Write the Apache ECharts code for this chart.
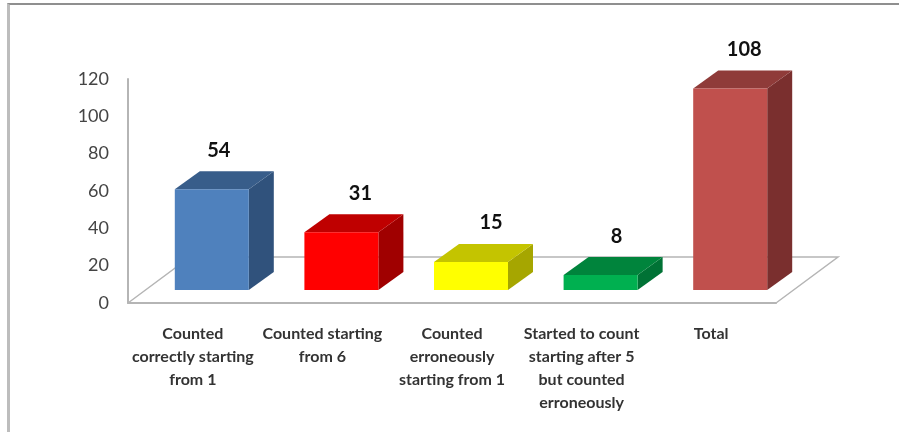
<!DOCTYPE html>
<html>
<head>
<meta charset="utf-8">
<title>Counting</title>
<script src="https://cdn.jsdelivr.net/npm/echarts@6/dist/echarts.min.js"></script>
<style>
    html, body { margin: 0; padding: 0; background: #fff; }
    #main { position: absolute; left: 0; top: 0; width: 899px; height: 432px; }
    .frame {
        position: absolute; left: 7px; top: 3px; right: 0; bottom: 0;
        border-top: 2px solid #8f8f8f;
        border-left: 3px solid #bdbdbd;
    }
</style>
</head>
<body>
<div class="frame"></div>
<div id="main"></div>
<script>
    const categories = [
        'Counted\ncorrectly starting\nfrom 1',
        'Counted starting\nfrom 6',
        'Counted\nerroneously\nstarting from 1',
        'Started to count\nstarting after 5\nbut counted\nerroneously',
        'Total'
    ];
    const values = [54, 31, 15, 8, 108];
    const frontColors = ['#4f81bd', '#ff0000', '#ffff00', '#00b050', '#c0504d'];
    const topColors = ['#385d8a', '#bf0000', '#c4c400', '#00843c', '#8f3b39'];
    const sideColors = ['#30527c', '#a00000', '#a6a600', '#007235', '#7a2f2e'];
    const labelNudge = [7, 19, 20, 16, 14];

    // fake 3d: floor depth and bar depth in px
    const floorDx = 62, floorDy = 46;
    const barDx = 25, barDy = 18;
    const barShift = 19, barLift = 13, barHalf = 37;
    const axisColor = '#b5b5b5';

    function renderFloor(params, api) {
        const g = params.coordSys;
        const bottom = g.y + g.height;
        return {
            type: 'polyline',
            silent: true,
            shape: {
                points: [
                    [g.x, bottom],
                    [g.x + floorDx, bottom - floorDy],
                    [g.x + g.width + floorDx, bottom - floorDy],
                    [g.x + g.width, bottom]
                ]
            },
            style: { fill: null, stroke: axisColor, lineWidth: 1.5 }
        };
    }

    function renderBar(params, api) {
        const i = params.dataIndex;
        const base = api.coord([api.value(0), 0]);
        const head = api.coord([api.value(0), api.value(1)]);
        const cx = base[0] + barShift;
        const l = cx - barHalf, r = cx + barHalf;
        const b = base[1] - barLift, t = head[1] - barLift;
        return {
            type: 'group',
            children: [
                {
                    type: 'polygon',
                    shape: { points: [[r, t], [r + barDx, t - barDy], [r + barDx, b - barDy], [r, b]] },
                    style: { fill: sideColors[i] }
                },
                {
                    type: 'polygon',
                    shape: { points: [[l, t], [l + barDx, t - barDy], [r + barDx, t - barDy], [r, t]] },
                    style: { fill: topColors[i] }
                },
                {
                    type: 'rect',
                    shape: { x: l, y: t, width: r - l, height: b - t },
                    style: { fill: frontColors[i] }
                },
                {
                    type: 'text',
                    x: cx + labelNudge[i],
                    y: t - 39,
                    style: {
                        text: String(api.value(1)),
                        fill: '#111',
                        font: 'bold 20px Lato',
                        align: 'center',
                        verticalAlign: 'middle'
                    }
                }
            ]
        };
    }

    let myChart = echarts.init(document.getElementById('main'), null, { renderer: 'canvas' });
    myChart.setOption({
        animation: false,
        grid: { left: 128, top: 79, width: 648, height: 224 },
        xAxis: {
            type: 'category',
            data: categories,
            axisTick: { show: false },
            axisLine: { lineStyle: { color: axisColor, width: 2 } },
            axisLabel: {
                interval: 0,
                margin: 19,
                color: '#333',
                fontFamily: 'Lato',
                fontSize: 16,
                fontWeight: 'bold',
                lineHeight: 23,
                verticalAlign: 'top'
            }
        },
        yAxis: {
            type: 'value',
            min: 0,
            max: 120,
            interval: 20,
            splitLine: { show: false },
            axisTick: { show: false },
            axisLine: { show: true, lineStyle: { color: axisColor, width: 2 } },
            axisLabel: { margin: 19, color: '#444', fontFamily: 'Lato', fontSize: 18, padding: [7, 0, 0, 0] }
        },
        series: [
            {
                name: 'floor',
                type: 'custom',
                renderItem: renderFloor,
                data: [[0, 0]],
                clip: false,
                silent: true,
                z: 1
            },
            {
                name: 'count',
                type: 'custom',
                renderItem: renderBar,
                encode: { x: 0, y: 1 },
                data: values.map((v, i) => [i, v]),
                clip: false,
                z: 2
            }
        ]
    });
</script>
</body>
</html>
